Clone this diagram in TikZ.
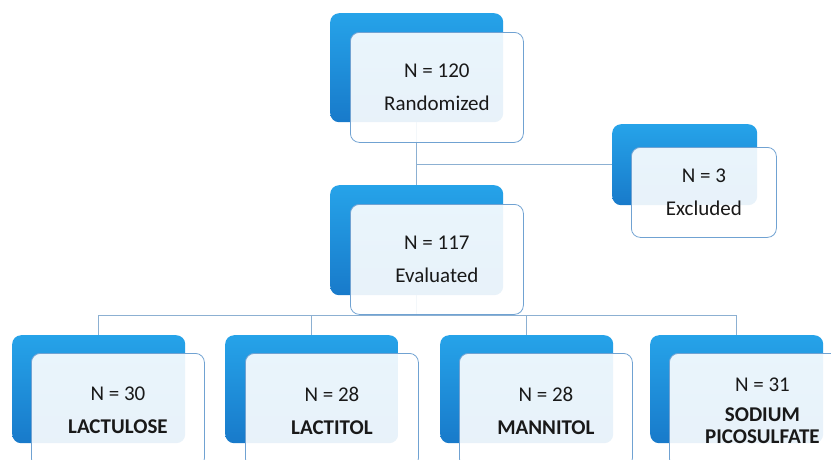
\documentclass[tikz,border=0pt]{standalone}
\usepackage{fontspec}
\setmainfont{Carlito}
\usetikzlibrary{calc}
\definecolor{blueT}{RGB}{38,163,233}
\definecolor{blueB}{RGB}{24,122,202}
\definecolor{frontline}{RGB}{112,162,210}
\definecolor{linec}{RGB}{140,176,210}
\definecolor{textc}{RGB}{25,25,25}
\begin{document}
\begin{tikzpicture}[x=1pt,y=-1pt,
  back/.style={draw=none, rounded corners=9pt, top color=blueT, bottom color=blueB,
    inner sep=0pt, anchor=north west, minimum width=173pt},
  front/.style={draw=frontline, line width=0.8pt, fill=white, fill opacity=0.9, text opacity=1,
    rounded corners=9pt, inner sep=0pt, anchor=north west, align=center, text=textc,
    minimum width=173pt, font=\fontsize{21}{33}\selectfont},
  link/.style={draw=linec, line width=0.8pt}]
\useasboundingbox (0,0) rectangle (831,459);
\clip (0,0) rectangle (831,459);
\fill[white] (0,0) rectangle (831,459);

% back boxes
\node[back, minimum height=109pt] (topb) at (330,13) {};
\node[back, minimum width=145pt, minimum height=81pt] (exb) at (612,124) {};
\node[back, minimum height=110pt] (evb) at (330,185) {};
\node[back, minimum height=108pt] (b1) at (12,335) {};
\node[back, minimum height=108pt] (b2) at (225,335) {};
\node[back, minimum height=108pt] (b3) at (440,335) {};
\node[back, minimum height=108pt] (b4) at (650,335) {};

% connectors
\coordinate (split) at ($(topb.south)!0.5!(evb.north)$);
\draw[link] (topb.south) -- (evb.north);
\draw[link] (split |- exb.west) -- (exb.west);
\coordinate (bus) at ([yshift=-20pt]evb.south);
\draw[link] (evb.south) -- (bus);
\draw[link] (bus) -| (b1.north);
\draw[link] (bus) -| (b2.north);
\draw[link] (bus) -| (b3.north);
\draw[link] (bus) -| (b4.north);

% front boxes
\node[front, minimum height=110pt] (topf) at (350,32) {N = 120\\Randomized};
\node[front, minimum width=145pt, minimum height=90pt] (exf) at (631,147) {N = 3\\Excluded};
\node[front, minimum height=110pt] (evf) at (350,204) {N = 117\\Evaluated};
\node[front, minimum height=114pt] (f1) at (31,353) {N = 30\\\textbf{LACTULOSE}};
\node[front, minimum height=114pt] (f2) at (245,353) {N = 28\\\textbf{LACTITOL}};
\node[front, minimum height=114pt] (f3) at (459,353) {N = 28\\\textbf{MANNITOL}};
\node[front, minimum width=186pt, minimum height=114pt] (f4) at (669,353) {N = 31\\[-3pt]\textbf{SODIUM}\\[-11pt]\textbf{PICOSULFATE}};
\end{tikzpicture}
\end{document}
